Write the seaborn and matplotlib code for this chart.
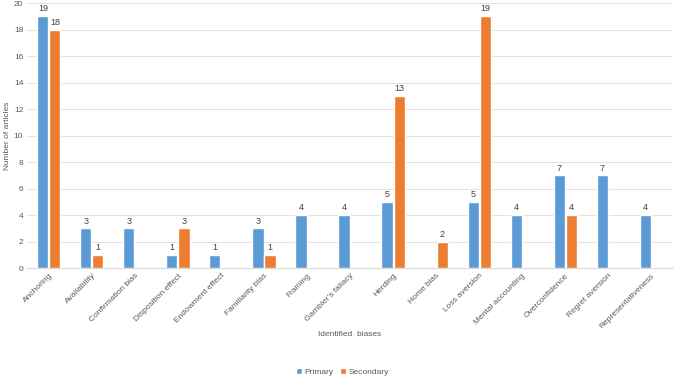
import numpy as np
import pandas as pd
import matplotlib
matplotlib.use("Agg")
import matplotlib.pyplot as plt
import seaborn as sns

biases = ["Anchoring", "Availability", "Confirmation bias", "Disposition effect",
          "Endowment effect", "Familiarity bias", "Framing", "Gambler\u2019s fallacy",
          "Herding", "Home bias", "Loss aversion", "Mental accounting",
          "Overconfidence", "Regret aversion", "Representativeness"]
primary = [19, 3, 3, 1, 1, 3, 4, 4, 5, np.nan, 5, 4, 7, 7, 4]
secondary = [18, 1, np.nan, 3, np.nan, 1, np.nan, np.nan, 13, 2, 19, np.nan, 4, np.nan, np.nan]

df = pd.DataFrame({
    "bias": biases * 2,
    "count": primary + secondary,
    "type": ["Primary"] * len(biases) + ["Secondary"] * len(biases),
})

sns.set_style("white")
plt.rcParams["font.family"] = ["Liberation Sans", "DejaVu Sans"]

fig = plt.figure(figsize=(6.85, 3.76), dpi=100)
ax = fig.add_axes([0.04, 0.287, 0.942, 0.705])

sns.barplot(data=df, x="bias", y="count", hue="type", order=biases,
            palette=["#5B9BD5", "#ED7D31"], saturation=1, width=0.56, gap=0.08, ax=ax)

for c in ax.containers:
    ax.bar_label(c, fmt="%d", fontsize=6.5, color="#404040", padding=2)

ax.set_ylim(0, 20)
ax.set_yticks(range(0, 21, 2))
ax.yaxis.grid(True, color="#e3e3e3", linewidth=0.8)
ax.set_axisbelow(True)
for s in ["top", "right", "left"]:
    ax.spines[s].set_visible(False)
ax.spines["bottom"].set_color("#d9d9d9")
ax.tick_params(axis="both", length=0, labelsize=6, colors="#595959", pad=3)
plt.setp(ax.get_xticklabels(), rotation=45, ha="right", rotation_mode="anchor")
ax.set_xlim(-0.5, len(biases) - 0.5)

ax.set_xlabel("Identified  biases", fontsize=6, color="#595959", labelpad=1)
ax.set_ylabel("Number of articles", fontsize=6, color="#595959", labelpad=2)

handles, labels = ax.get_legend_handles_labels()
ax.get_legend().remove()
fig.legend(handles, labels, loc="lower center", bbox_to_anchor=(0.5, -0.02), ncol=2,
           frameon=False, fontsize=6, labelcolor="#595959", handlelength=0.7,
           handleheight=0.7, handletextpad=0.3, columnspacing=0.8)

fig.savefig("out.png", dpi=100)
